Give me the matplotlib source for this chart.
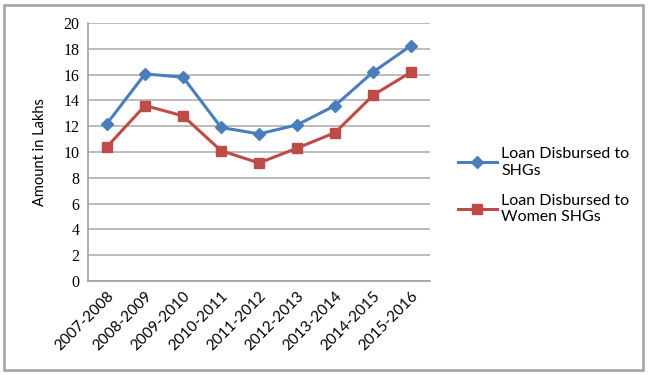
import matplotlib
matplotlib.use('Agg')
import matplotlib.pyplot as plt
from matplotlib.patches import Rectangle

# data
years = ['2007-2008', '2008-2009', '2009-2010', '2010-2011', '2011-2012',
         '2012-2013', '2013-2014', '2014-2015', '2015-2016']
loan_shg = [12.2, 16.05, 15.8, 11.9, 11.4, 12.1, 13.6, 16.2, 18.25]
loan_women_shg = [10.4, 13.6, 12.8, 10.1, 9.15, 10.3, 11.5, 14.4, 16.2]
y_ticks = list(range(0, 21, 2))

fig = plt.figure(figsize=(6.48, 3.75), dpi=100)
ax = fig.add_axes([0.1358, 0.2507, 0.528, 0.688])

x = list(range(len(years)))
ax.plot(x, loan_shg, color='#4A7EBB', lw=2.2, marker='D', ms=6,
        label='Loan Disbursed to\nSHGs')
ax.plot(x, loan_women_shg, color='#BE4B48', lw=2.2, marker='s', ms=7.5,
        label='Loan Disbursed to\nWomen SHGs')

ax.set_xlim(-0.5, len(years) - 0.5)
ax.set_ylim(0, 20)
ax.set_yticks(y_ticks)
ax.set_yticklabels([str(v) for v in y_ticks], fontfamily='Liberation Serif',
                   fontsize=11.5)
ax.set_xticks(x)
ax.set_xticklabels(years, rotation=45, ha='right', rotation_mode='anchor',
                   fontfamily='Lato', fontsize=11)
ax.tick_params(length=0, pad=6)
ax.grid(axis='y', color='#b0b0b0', lw=1.2)
ax.set_axisbelow(True)
for s in ['top', 'right']:
    ax.spines[s].set_visible(False)
for s in ['left', 'bottom']:
    ax.spines[s].set_color('#a0a0a0')
    ax.spines[s].set_linewidth(1.2)

ax.set_ylabel('Amount in Lakhs', fontfamily='Lato', fontsize=10.5, labelpad=12)

ax.legend(loc='center left', bbox_to_anchor=(1.04, 0.37), frameon=False,
          prop={'family': 'Lato', 'size': 11.5}, handlelength=2.4,
          labelspacing=1.0, handletextpad=0.3)

# outer chart border
fig.patches.append(Rectangle((4 / 648, 5 / 375), 639 / 648, 365 / 375,
                             transform=fig.transFigure, fill=False,
                             edgecolor='#a8a8a8', lw=2))

fig.savefig('out.png', dpi=100)
